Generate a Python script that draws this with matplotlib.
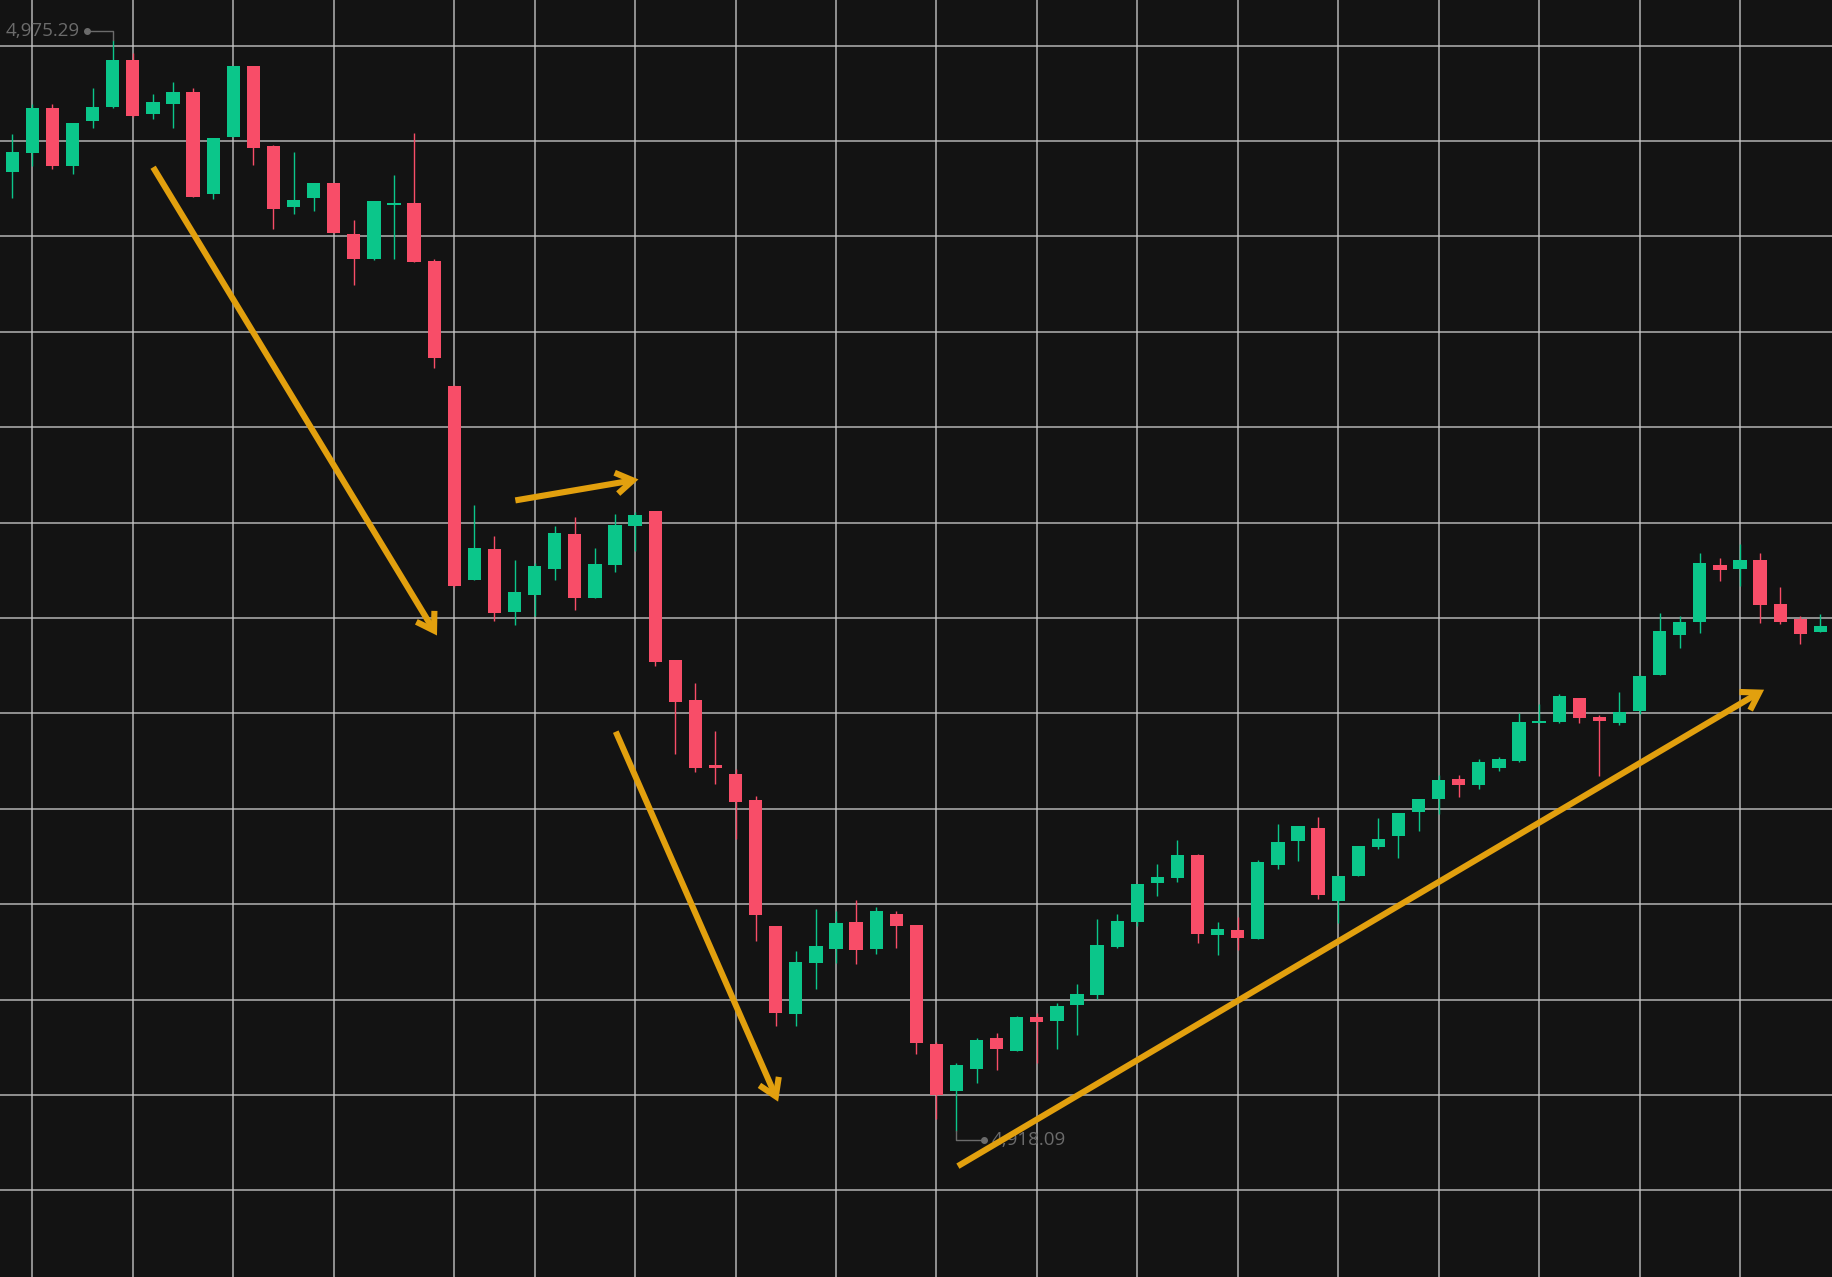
import matplotlib
matplotlib.use("Agg")
import matplotlib.pyplot as plt
import matplotlib.transforms as mtransforms
import numpy as np

# ---------------- data (OHLC per bar) ----------------
opens = [4968.35, 4969.37, 4971.71, 4968.67, 4971.03, 4971.79, 4974.22, 4971.39, 4971.95, 4972.56,
         4967.24, 4970.22, 4973.91, 4969.75, 4966.53, 4967.01, 4967.79, 4965.10, 4963.79, 4966.64,
         4966.76, 4963.70, 4957.14, 4946.97, 4948.60, 4945.33, 4946.18, 4947.59, 4949.38, 4946.03,
         4947.75, 4949.80, 4950.60, 4942.79, 4940.69, 4937.27, 4936.80, 4935.47, 4928.86, 4924.22,
         4926.92, 4927.67, 4929.07, 4927.67, 4929.46, 4928.90, 4922.69, 4920.21, 4921.38, 4922.99,
         4922.33, 4924.09, 4923.88, 4924.69, 4925.22, 4927.73, 4929.06, 4931.10, 4931.35, 4932.59,
         4928.37, 4928.64, 4928.20, 4932.05, 4933.32, 4934.00, 4930.16, 4931.50, 4932.99, 4933.58,
         4934.83, 4935.52, 4936.58, 4936.22, 4937.15, 4937.48, 4939.50, 4939.53, 4940.82, 4939.79,
         4939.48, 4940.11, 4942.01, 4944.08, 4944.81, 4947.79, 4947.58, 4948.02, 4945.72, 4944.93,
         4944.26]
highs = [4970.34, 4971.92, 4971.92, 4970.92, 4972.77, 4975.29, 4974.59, 4972.46, 4973.09, 4972.76,
         4970.13, 4973.91, 4973.91, 4969.79, 4969.40, 4967.78, 4967.80, 4965.85, 4966.83, 4968.21,
         4970.40, 4963.80, 4957.20, 4950.91, 4949.30, 4948.03, 4947.90, 4949.83, 4950.30, 4948.65,
         4950.44, 4950.55, 4950.62, 4942.80, 4941.59, 4939.05, 4937.06, 4935.67, 4928.88, 4927.56,
         4929.75, 4929.65, 4930.21, 4929.83, 4929.65, 4928.92, 4922.78, 4921.70, 4922.97, 4923.23,
         4924.12, 4924.27, 4924.84, 4925.80, 4929.21, 4929.49, 4931.08, 4932.08, 4933.34, 4932.64,
         4929.07, 4929.35, 4932.31, 4934.21, 4934.10, 4934.58, 4931.48, 4933.05, 4934.53, 4934.78,
         4935.50, 4936.79, 4936.79, 4937.62, 4937.71, 4940.00, 4940.49, 4940.99, 4940.83, 4939.91,
         4941.10, 4941.99, 4945.28, 4945.11, 4948.41, 4948.14, 4948.90, 4948.41, 4946.64, 4945.11,
         4945.23]
lows = [4967.03, 4968.70, 4968.53, 4968.25, 4970.68, 4971.71, 4971.27, 4971.13, 4970.66, 4967.04,
        4966.96, 4970.22, 4968.75, 4965.37, 4966.19, 4966.33, 4965.18, 4962.45, 4963.76, 4963.81,
        4963.64, 4958.10, 4946.60, 4946.97, 4944.83, 4944.65, 4945.12, 4947.00, 4945.43, 4946.03,
        4947.40, 4948.50, 4942.50, 4937.85, 4936.94, 4936.31, 4933.39, 4928.06, 4923.62, 4923.62,
        4925.55, 4926.94, 4926.85, 4927.41, 4927.71, 4922.13, 4918.76, 4918.09, 4920.65, 4921.31,
        4922.32, 4921.70, 4922.40, 4923.13, 4925.05, 4927.72, 4928.85, 4930.45, 4931.15, 4927.94,
        4927.31, 4927.60, 4928.19, 4931.85, 4932.26, 4930.28, 4928.99, 4931.49, 4932.90, 4932.41,
        4933.84, 4934.70, 4935.63, 4936.04, 4936.96, 4937.47, 4939.49, 4939.52, 4939.48, 4936.70,
        4939.37, 4939.98, 4942.00, 4943.43, 4944.22, 4946.96, 4946.70, 4944.75, 4944.66, 4943.64,
        4944.25]
closes = [4969.40, 4971.71, 4968.67, 4970.92, 4971.78, 4974.22, 4971.32, 4972.02, 4972.55, 4967.08,
          4970.13, 4973.91, 4969.61, 4966.45, 4966.90, 4967.78, 4965.19, 4963.79, 4966.83, 4966.76,
          4963.64, 4958.60, 4946.69, 4948.69, 4945.24, 4946.34, 4947.73, 4949.47, 4946.03, 4947.83,
          4949.87, 4950.40, 4942.70, 4940.62, 4937.13, 4937.15, 4935.33, 4929.43, 4924.27, 4926.99,
          4927.82, 4928.99, 4927.60, 4929.62, 4928.85, 4922.71, 4920.02, 4921.57, 4922.90, 4922.40,
          4924.11, 4923.83, 4924.67, 4925.30, 4927.87, 4929.13, 4931.08, 4931.40, 4932.59, 4928.44,
          4928.71, 4928.22, 4932.20, 4933.27, 4934.09, 4930.47, 4931.47, 4933.04, 4933.43, 4934.77,
          4935.49, 4936.49, 4936.22, 4937.45, 4937.60, 4939.53, 4939.62, 4940.90, 4939.74, 4939.58,
          4940.08, 4941.98, 4944.29, 4944.77, 4947.88, 4947.49, 4948.02, 4945.69, 4944.81, 4944.17,
          4944.58]

# vertical (time) grid positions, as bar indices, and horizontal price grid levels
time_grid = [1, 6, 11, 16, 22, 26, 31, 36, 41, 46, 51, 56, 61, 66, 71, 76, 81, 86]
price_grid = [4915, 4920, 4925, 4930, 4935, 4940, 4945, 4950, 4955, 4960, 4965, 4970, 4975]

# trend arrows drawn on the chart: (bar index, price) start -> end
arrow_starts = [(7.01, 4968.62), (25.04, 4951.16), (30.04, 4939.04), (47.07, 4916.27)]
arrow_ends = [(21.14, 4944.08), (31.17, 4952.26), (38.12, 4919.65), (87.20, 4941.24)]

# ---------------- style ----------------
BG = "#131313"
UP = "#0bc68a"
DOWN = "#f84d68"
GRID = "#c4c4c4"
ARROW = "#e2a00e"
LABEL = "#6b6b6b"

fig = plt.figure(figsize=(18.33, 12.77), dpi=100)
fig.patch.set_facecolor(BG)
ax = fig.add_axes([0, 0, 1, 1])
ax.set_facecolor(BG)

o = np.array(opens); h = np.array(highs); l = np.array(lows); c = np.array(closes)
x = np.arange(len(o))

ax.set_xlim(-0.612, 90.63)
ax.set_ylim(4910.46, 4977.385)
ax.set_xticks(time_grid)
ax.set_yticks(price_grid)
ax.grid(True, color=GRID, lw=1.1, alpha=0.9)
ax.set_axisbelow(True)
ax.tick_params(length=0, labelbottom=False, labelleft=False)
for s in ax.spines.values():
    s.set_visible(False)

cols = np.where(c >= o, UP, DOWN)
ax.vlines(x, l, h, colors=cols, lw=1.0, zorder=2)
bottom = np.minimum(o, c)
height = np.maximum(np.abs(c - o), 0.12)
ax.bar(x, height, bottom=bottom, width=0.66, color=cols, linewidth=0, zorder=3)

# ---------------- high / low markers ----------------
def pix_trans(i, v):
    return fig.dpi_scale_trans + mtransforms.ScaledTranslation(i, v, ax.transData)

hi_i = int(np.argmax(h)); hi_v = h[hi_i]
tr = pix_trans(hi_i, hi_v)
ax.plot([0, 0, -0.26], [0, 0.093, 0.093], color=LABEL, lw=1.0, transform=tr, zorder=4)
ax.plot([-0.26], [0.093], 'o', ms=4, color=LABEL, transform=tr, zorder=4)
ax.text(-0.33, 0.093, f"{hi_v:,.2f}", transform=tr, ha="right", va="center",
        color=LABEL, fontsize=13.5, family=["Open Sans", "DejaVu Sans"], zorder=4)

lo_i = int(np.argmin(l)); lo_v = l[lo_i]
tr = pix_trans(lo_i, lo_v)
ax.plot([0, 0, 0.28], [0, -0.083, -0.083], color=LABEL, lw=1.0, transform=tr, zorder=4)
ax.plot([0.28], [-0.083], 'o', ms=4, color=LABEL, transform=tr, zorder=4)
ax.text(0.35, -0.083, f"{lo_v:,.2f}", transform=tr, ha="left", va="center",
        color=LABEL, fontsize=13.5, family=["Open Sans", "DejaVu Sans"], zorder=4)

# ---------------- arrows ----------------
for s, e in zip(arrow_starts, arrow_ends):
    ax.annotate("", xy=e, xytext=s,
                arrowprops=dict(arrowstyle="->,head_length=0.6,head_width=0.38",
                                color=ARROW, lw=4.4, shrinkA=0, shrinkB=0,
                                mutation_scale=20, joinstyle="miter", capstyle="butt"),
                zorder=5)

fig.savefig("out.png", dpi=100, facecolor=BG)
